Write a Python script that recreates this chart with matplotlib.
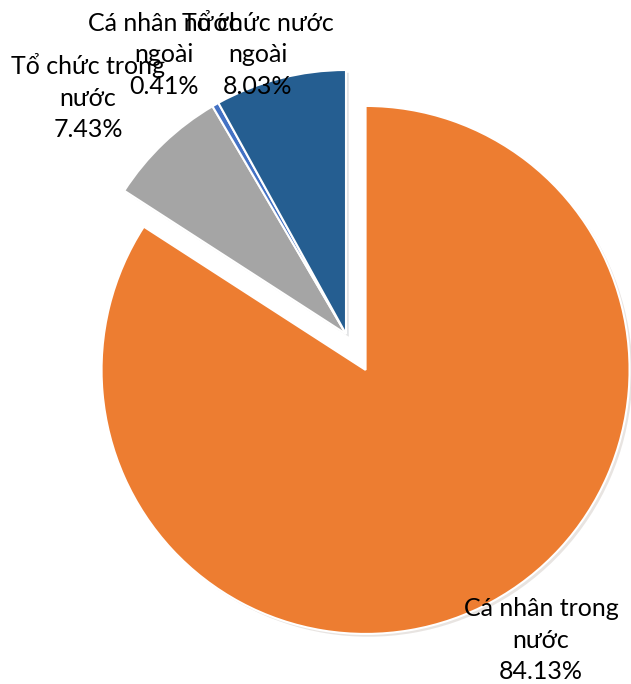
import matplotlib.pyplot as plt
import matplotlib.patheffects as pe

labels = ['Cá nhân trong\nnước', 'Tổ chức trong\nnước', 'Cá nhân nước\nngoài', 'Tổ chức nước\nngoài']
values = [84.13, 7.43, 0.41, 8.03]
colors = ['#ED7D31', '#A5A5A5', '#4472C4', '#255E91']
explode = [0.155, 0, 0, 0]

# label centres in pixels (x from left, y from top)
label_px = [(541, 640), (88, 97), (164, 55), (258, 55)]

W, H = 631, 684
cx, cy, r = 346, 334, 264

fig = plt.figure(figsize=(W / 100, H / 100), dpi=100)
ax = fig.add_axes([0, 0, 1, 1])

wedges, _ = ax.pie(values, colors=colors, explode=explode, startangle=90,
                   counterclock=False, radius=1,
                   wedgeprops=dict(edgecolor='white', linewidth=1.5))
for w in wedges:
    w.set_path_effects([pe.SimplePatchShadow(offset=(2, -2), alpha=0.12), pe.Normal()])

ax.set_xlim(-cx / r, (W - cx) / r)
ax.set_ylim(-(H - cy) / r, cy / r)
ax.set_aspect('auto')
ax.axis('off')

for lab, v, (px, py) in zip(labels, values, label_px):
    x = (px - cx) / r
    y = (cy - py) / r
    ax.text(x, y, f'{lab}\n{v:.2f}%', ha='center', va='center',
            fontsize=18, family=['Lato', 'DejaVu Sans'], linespacing=1.43, color='#000000')

fig.savefig('out.png', dpi=100)
